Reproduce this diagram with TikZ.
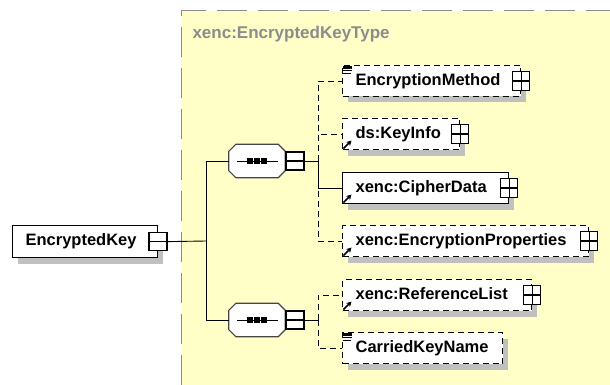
\documentclass[tikz,border=0pt]{standalone}
\usepackage{fontspec}
\newfontfamily\xsdfont{Liberation Sans}
\usetikzlibrary{shadows,arrows.meta}

\definecolor{typebg}{RGB}{255,255,200}
\definecolor{typeframe}{RGB}{140,140,140}
\definecolor{shade}{RGB}{192,192,192}
\definecolor{seqframe}{RGB}{70,70,70}

\tikzset{
  elem/.style={draw, fill=white, line width=1.2pt, rectangle, anchor=west,
    align=left, inner xsep=13pt, inner ysep=0pt, minimum height=31pt,
    text height=12pt, text depth=3.5pt,
    font=\xsdfont\bfseries\fontsize{16.5}{19}\selectfont,
    drop shadow={shadow xshift=5pt, shadow yshift=-6pt, fill=shade, opacity=1}},
  opt/.style={dash pattern=on 6pt off 4pt},
  conn/.style={line width=0.9pt},
  plusbox/.style={draw, fill=white, line width=1.3pt, minimum width=17pt,
    minimum height=19pt, inner sep=0pt,
    path picture={\draw[line width=1.2pt]
      (path picture bounding box.north) -- (path picture bounding box.south)
      (path picture bounding box.west) -- (path picture bounding box.east);}},
  minusbox/.style={draw, fill=white, line width=1.6pt, minimum width=18pt,
    minimum height=18pt, inner sep=0pt,
    path picture={\draw[line width=1.2pt]
      (path picture bounding box.west) -- (path picture bounding box.east);}},
  seqbox/.style={rectangle, minimum width=56pt, minimum height=33pt, inner sep=0pt},
  typename/.style={anchor=west, text=typeframe,
    font=\xsdfont\bfseries\fontsize{17}{20}\selectfont}
}

% octagon outline round a compositor node
\newcommand\octpath[1]{([xshift=7pt]#1.north west) -- ([xshift=-7pt]#1.north east)
  -- ([yshift=-7pt]#1.north east) -- ([yshift=7pt]#1.south east)
  -- ([xshift=-7pt]#1.south east) -- ([xshift=7pt]#1.south west)
  -- ([yshift=7pt]#1.south west) -- ([yshift=-7pt]#1.north west) -- cycle}

% small marks drawn inside the element boxes
\newcommand\refmark[1]{\draw[line width=1.6pt,-{Stealth[length=5pt,width=5.5pt]}]
  ([shift={(1.5,-1.5)}]#1.south west) -- ++(8,-8);}
\newcommand\simplemark[1]{%
  \fill ([shift={(1,1)}]#1.north west) rectangle ++(9,3);
  \draw[line width=1pt] ([shift={(1,6)}]#1.north west) -- ++(9,0);
  \draw[line width=1pt] ([shift={(1,9)}]#1.north west) -- ++(8,0);}

\begin{document}
\begin{tikzpicture}[x=1pt,y=-1pt]

    \useasboundingbox (0,0) rectangle (610,385);

    % Complex type area with its dashed frame
    \fill[typebg] (181,11) rectangle (610,385);
    \draw[typeframe, line width=1pt, dash pattern=on 30pt off 11pt]
      (181,385) -- (181,11) -- (610,11);
    \node[typename] (tname) at (189,34) {xenc:EncryptedKeyType};

    % Root element
    \node[elem, anchor=north west, minimum height=32pt, text width=119pt] (ek) at (12,225) {EncryptedKey};
    \node[minusbox] (ek-p) at (ek.east) {};

    % The two sequence compositors
    \node[seqbox] (seq1) at (257,161) {};
    \node[seqbox] (seq2) at (257,320) {};
    \foreach \s in {seq1,seq2} {
      \fill[shade, shift={(5,6)}] \octpath{\s};
      \filldraw[fill=white, draw=seqframe, line width=1.2pt] \octpath{\s};
      \draw[conn] ([xshift=-20pt]\s.center) -- ([xshift=21pt]\s.center);
      \foreach \dx in {-7,0,7}
        \fill ([xshift=\dx pt]\s.center) +(-2.8,-2.8) rectangle +(2.8,2.8);
    }
    \node[minusbox, anchor=west] (s1-p) at (seq1.east) {};
    \node[minusbox, anchor=west] (s2-p) at (seq2.east) {};

    % Children of the first sequence
    \node[elem, opt, text width=152pt] (em) at (342,81) {EncryptionMethod};
    \node[elem, opt, text width=91pt] (ki) at (342,134) {ds:KeyInfo};
    \node[elem, text width=140pt] (cd) at (342,188) {xenc:CipherData};
    \node[elem, opt, text width=220pt] (ep) at (342,241) {xenc:EncryptionProperties};

    % Children of the second sequence
    \node[elem, opt, text width=163pt] (rl) at (342,295) {xenc:ReferenceList};
    \node[elem, opt, text width=134pt] (ck) at (342,348) {CarriedKeyName};

    % Expand boxes on the right edges
    \node[plusbox] (em-p) at (em.east) {};
    \node[plusbox] (ki-p) at (ki.east) {};
    \node[plusbox] (cd-p) at (cd.east) {};
    \node[plusbox] (ep-p) at (ep.east) {};
    \node[plusbox] (rl-p) at (rl.east) {};

    % Marks for referenced and simple-typed elements
    \simplemark{em}
    \simplemark{ck}
    \refmark{ki}
    \refmark{cd}
    \refmark{ep}
    \refmark{rl}

    % Junction points of the connectors
    \coordinate (j1) at (206,241);   % root to compositors
    \coordinate (j2) at (318,161);   % first sequence to children
    \coordinate (j3) at (318,320);   % second sequence to children

    % Root to the sequences
    \draw[conn] (ek-p.east) -- (j1);
    \draw[conn] (j1) |- (seq1.west);
    \draw[conn] (j1) |- (seq2.west);

    % First sequence to its children
    \draw[conn] (s1-p.east) -- (j2);
    \draw[conn, opt] (j2) |- (em.west);
    \draw[conn, opt] (j2) |- (ki.west);
    \draw[conn, opt] (j2) |- (ep.west);
    \draw[conn] (j2) |- (cd.west);

    % Second sequence to its children
    \draw[conn] (s2-p.east) -- (j3);
    \draw[conn, opt] (j3) |- (rl.west);
    \draw[conn, opt] (j3) |- (ck.west);

\end{tikzpicture}
\end{document}
